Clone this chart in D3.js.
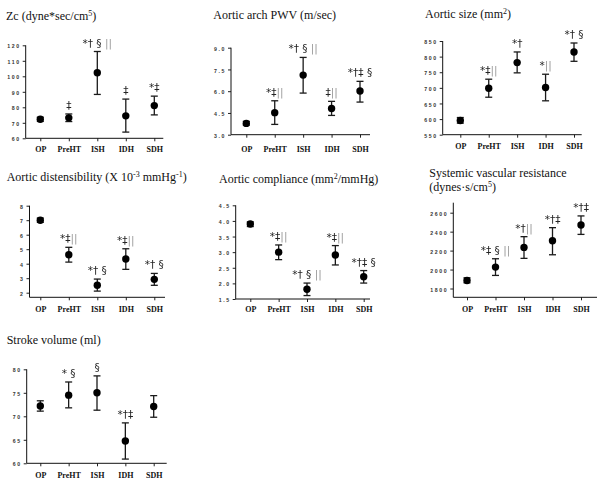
<!DOCTYPE html>
<html><head><meta charset="utf-8">
<script src="https://cdn.jsdelivr.net/npm/d3@7"></script>
<style>body{margin:0;background:#fff} svg{display:block} .marks{opacity:0.99; will-change:transform}</style>
</head><body><svg id="c" width="602" height="485"></svg>
<script>
const categories = ["OP", "PreHT", "ISH", "IDH", "SDH"];

// Zc (dyne*sec/cm5)
const zcMean = [72.3, 73.2, 102.3, 74.5, 81.1];
const zcLow  = [70.9, 70.8, 88.3, 64.0, 75.1];
const zcHigh = [73.6, 75.7, 116.0, 85.3, 87.2];
const zcMarks = ["", "‡", "*† § ||", "‡", "*‡"];
const zcTicks = [60, 70, 80, 90, 100, 110, 120];

// Aortic arch PWV (m/sec)
const pwvMean = [3.78, 4.52, 7.11, 4.81, 6.01];
const pwvLow  = [3.66, 3.71, 5.87, 4.33, 5.25];
const pwvHigh = [3.92, 5.34, 8.33, 5.30, 6.68];
const pwvMarks = ["", "*‡||", "*† § ||", "‡||", "*†‡ §"];
const pwvTicks = [3.0, 4.5, 6.0, 7.5, 9.0];

// Aortic size (mm2)
const sizeMean = [595.7, 698.9, 780.9, 701.0, 814.9];
const sizeLow  = [587, 670, 748, 658.5, 785];
const sizeHigh = [605, 727.7, 814.9, 743.6, 843.6];
const sizeMarks = ["", "*‡||", "*†", "*||", "*† §"];
const sizeTicks = [550, 600, 650, 700, 750, 800, 850];

// Aortic distensibility
const distMean = [7.0, 4.62, 2.51, 4.32, 2.92];
const distLow  = [6.85, 4.11, 2.11, 3.61, 2.51];
const distHigh = [7.15, 5.13, 2.94, 5.03, 3.33];
const distMarks = ["", "*‡||", "*† §", "*‡||", "*† §"];
const distTicks = [2, 3, 4, 5, 6, 7, 8];

// Aortic compliance
const compMean = [3.90, 3.00, 1.81, 2.91, 2.21];
const compLow  = [3.82, 2.76, 1.61, 2.59, 2.01];
const compHigh = [3.97, 3.23, 2.01, 3.21, 2.41];
const compMarks = ["", "*‡||", "*† § ||", "*‡||", "*†‡ §"];
const compTicks = [1.5, 2.0, 2.5, 3.0, 3.5, 4.0, 4.5];

// Systemic vascular resistance
const svrMean = [1885, 2026, 2234, 2304, 2470];
const svrLow  = [1860, 1938, 2118, 2156, 2371];
const svrHigh = [1913, 2114, 2347, 2442, 2566];
const svrMarks = ["", "*‡ § ||", "*†||", "*†‡", "*†‡"];
const svrTicks = [1800, 2000, 2200, 2400, 2600];

// Stroke volume (ml)
const svMean = [72.2, 74.5, 75.0, 64.75, 72.1];
const svLow  = [71.1, 71.8, 71.3, 60.9, 69.8];
const svHigh = [73.3, 77.3, 78.6, 68.6, 74.4];
const svMarks = ["", "* §", "§", "*†‡", ""];
const svTicks = [60, 65, 70, 75, 80];

const panels = [
  {title: [[["Zc (dyne*sec/cm"], ["5", true], [")"]]], mean: zcMean, low: zcLow, high: zcHigh, marks: zcMarks, ticks: zcTicks, fmt: "d",
   L: {ax: 25.7, xr: [40.3, 154.3], xEnd: 163.3, yDom: [60, 120], yr: [138.3, 45.3], tx: 6, ty: [20], ly: 151.7}},
  {title: [[["Aortic arch PWV (m/sec)"]]], mean: pwvMean, low: pwvLow, high: pwvHigh, marks: pwvMarks, ticks: pwvTicks, fmt: ".1f",
   L: {ax: 231, xr: [246.3, 360], xEnd: 370, yDom: [3, 9], yr: [134.7, 47.7], tx: 213.3, ty: [19], ly: 151.7}},
  {title: [[["Aortic size (mm"], ["2", true], [")"]]], mean: sizeMean, low: sizeLow, high: sizeHigh, marks: sizeMarks, ticks: sizeTicks, fmt: "d",
   L: {ax: 442.7, xr: [460.3, 574], xEnd: 581.7, yDom: [550, 850], yr: [134.7, 41], tx: 425, ty: [17.5], ly: 148.7}},
  {title: [[["Aortic distensibility (X 10"], ["-3", true], [" mmHg"], ["-1", true], [")"]]], mean: distMean, low: distLow, high: distHigh, marks: distMarks, ticks: distTicks, fmt: "d",
   L: {ax: 29.5, xr: [40.3, 154.3], xEnd: 165, yDom: [2, 8], yr: [292.7, 205.7], bottom: 297.3, tx: 6.7, ty: [181], ly: 312}},
  {title: [[["Aortic compliance (mm"], ["2", true], ["/mmHg)"]]], mean: compMean, low: compLow, high: compHigh, marks: compMarks, ticks: compTicks, fmt: ".1f",
   L: {ax: 235.7, xr: [250.3, 363.7], xEnd: 370, yDom: [1.5, 4.5], yr: [299, 205.3], tx: 219, ty: [182.5], ly: 312}},
  {title: [[["Systemic vascular resistance"]], [[" (dynes·s/cm"], ["5", true], [")"]]], mean: svrMean, low: svrLow, high: svrHigh, marks: svrMarks, ticks: svrTicks, fmt: "d",
   L: {ax: 453.3, xr: [467, 581], xEnd: 597, yDom: [1800, 2600], yr: [288.5, 212.7], top: 202.7, bottom: 297.3, tx: 429.3, ty: [177, 191], ly: 312}},
  {title: [[["Stroke volume (ml)"]]], mean: svMean, low: svLow, high: svHigh, marks: svMarks, ticks: svTicks, fmt: "d",
   L: {ax: 26.7, xr: [40.3, 153.7], xEnd: 166.7, yDom: [60, 80], yr: [463.3, 369.3], tx: 6.7, ty: [343.5], ly: 478.5}}
];

const svg = d3.select("#c");
svg.append("rect").attr("width", 602).attr("height", 485).attr("fill", "#fff");

panels.forEach(p => {
  const L = p.L;
  const g = svg.append("g");
  const x = d3.scalePoint().domain(categories).range(L.xr);
  const y = d3.scaleLinear().domain(L.yDom).range(L.yr);
  const top = L.top !== undefined ? L.top : L.yr[1];
  const bottom = L.bottom !== undefined ? L.bottom : L.yr[0];

  // title
  p.title.forEach((line, i) => {
    const t = g.append("text").attr("x", L.tx).attr("y", L.ty[i])
      .attr("font-family", "'Liberation Serif', 'Times New Roman', serif")
      .attr("font-size", 12).attr("fill", "#111");
    line.forEach(seg => {
      const ts = t.append("tspan").text(seg[0]);
      if (seg[1]) ts.attr("font-size", 8).attr("baseline-shift", "super");
    });
  });

  // y axis
  const ya = g.append("g").attr("transform", `translate(${L.ax},0)`)
    .call(d3.axisLeft(y).tickValues(p.ticks).tickFormat(d3.format(p.fmt)).tickSize(3).tickPadding(2));
  ya.select(".domain").remove();
  ya.selectAll(".tick line").attr("stroke", "#222");
  ya.selectAll(".tick text").attr("font-family", "'Liberation Sans', Arial, sans-serif")
    .attr("font-weight", "bold").attr("font-size", 5.2).attr("letter-spacing", 1.6)
    .attr("fill", "#333").attr("dy", "0.5em");
  g.append("line").attr("x1", L.ax).attr("x2", L.ax).attr("y1", top).attr("y2", bottom)
    .attr("stroke", "#111").attr("stroke-width", 1);

  // x axis
  const xa = g.append("g").attr("transform", `translate(0,${bottom})`)
    .call(d3.axisBottom(x).tickSize(3));
  xa.select(".domain").remove();
  xa.selectAll(".tick line").attr("stroke", "#222");
  xa.selectAll(".tick text").attr("y", L.ly - bottom).attr("dy", 0)
    .attr("font-family", "'Liberation Serif', 'Times New Roman', serif")
    .attr("font-weight", "bold").attr("font-size", 8).attr("fill", "#111");
  g.append("line").attr("x1", L.ax).attr("x2", L.xEnd).attr("y1", bottom).attr("y2", bottom)
    .attr("stroke", "#111").attr("stroke-width", 1);

  // error bars and points
  const idx = d3.range(categories.length);
  const eb = g.append("g").attr("stroke", "#1a1a1a").attr("stroke-width", 1.3);
  eb.selectAll("line.stem").data(idx).join("line").attr("class", "stem")
    .attr("x1", i => x(categories[i])).attr("x2", i => x(categories[i]))
    .attr("y1", i => y(p.low[i])).attr("y2", i => y(p.high[i]));
  eb.selectAll("line.capT").data(idx).join("line").attr("class", "capT")
    .attr("x1", i => x(categories[i]) - 3.5).attr("x2", i => x(categories[i]) + 3.5)
    .attr("y1", i => y(p.high[i])).attr("y2", i => y(p.high[i]));
  eb.selectAll("line.capB").data(idx).join("line").attr("class", "capB")
    .attr("x1", i => x(categories[i]) - 3.5).attr("x2", i => x(categories[i]) + 3.5)
    .attr("y1", i => y(p.low[i])).attr("y2", i => y(p.low[i]));
  g.selectAll("circle").data(idx).join("circle")
    .attr("cx", i => x(categories[i])).attr("cy", i => y(p.mean[i]))
    .attr("r", 3.7).attr("fill", "#000");

  // significance marks
  const mg = g.append("g").attr("class", "marks");
  idx.forEach(i => {
    const s = p.marks[i];
    if (!s) return;
    const t = mg.append("text").attr("x", x(categories[i])).attr("y", y(p.high[i]) - 5)
      .attr("text-anchor", "middle")
      .attr("font-family", "'DejaVu Sans', sans-serif")
      .attr("font-size", 10.5).attr("fill", "#222");
    const parts = s.split(/(\|\|)/);
    parts.forEach(part => {
      if (!part) return;
      const ts = t.append("tspan").text(part);
      if (part === "||") ts.attr("fill", "#999");
    });
  });
});
</script></body></html>
